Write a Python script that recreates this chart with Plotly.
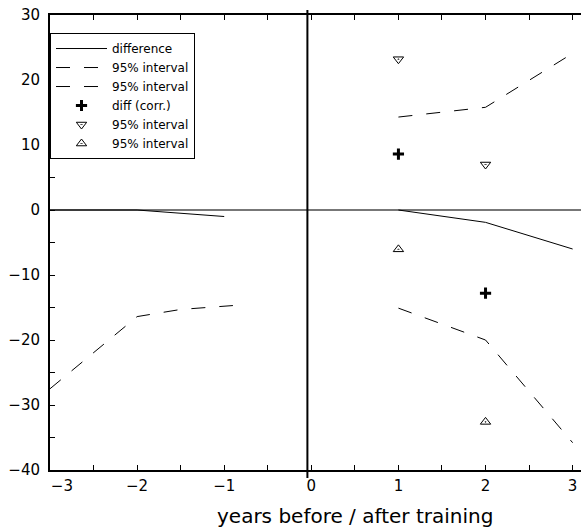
import plotly.graph_objects as go

# ---- data ----
diff_x = [-3, -2, -1, None, 1, 2, 3]
diff_y = [0, 0, -1.0, None, 0, -1.9, -6.0]

upper_x = [1, 2, 3]
upper_y = [14.3, 15.8, 24.1]

lower_x = [-3, -2, -1.5, -0.9, None, 1, 2, 3]
lower_y = [-27.5, -16.4, -15.3, -14.7, None, -15.1, -20.0, -35.8]

corr_x = [1, 2]
corr_y = [8.6, -12.8]

corr_hi_x = [1, 2]
corr_hi_y = [23.2, 7.0]

corr_lo_x = [1, 2]
corr_lo_y = [-6.05, -32.6]

x_tick_vals = [-3, -2, -1, 0, 1, 2, 3]
x_tick_text = ["\u00a0\u00a0\u00a0\u00a0\u00a0\u22123", "\u22122", "\u22121", "0", "1", "2", "3"]

x_range = [-3, 3.096]
y_range = [-40, 30]
vline_x = -0.045

FONT = "DejaVu Sans"

fig = go.Figure()
fig.add_trace(go.Scatter(x=diff_x, y=diff_y, mode="lines", name="difference",
                         line=dict(color="black", width=1), connectgaps=False))
fig.add_trace(go.Scatter(x=upper_x, y=upper_y, mode="lines", name="95% interval",
                         line=dict(color="black", width=1, dash="14px,14px")))
fig.add_trace(go.Scatter(x=lower_x, y=lower_y, mode="lines", name="95% interval",
                         line=dict(color="black", width=1, dash="14px,14px"), connectgaps=False))
fig.add_trace(go.Scatter(x=corr_x, y=corr_y, mode="markers", name="diff (corr.)",
                         marker=dict(symbol="cross-thin", size=8, color="black",
                                     line=dict(color="black", width=3))))
fig.add_trace(go.Scatter(x=corr_hi_x, y=corr_hi_y, mode="markers", name="95% interval",
                         marker=dict(symbol="triangle-down-open-dot", size=9, color="black",
                                     line=dict(color="black", width=1))))
fig.add_trace(go.Scatter(x=corr_lo_x, y=corr_lo_y, mode="markers", name="95% interval",
                         marker=dict(symbol="triangle-up-open-dot", size=9, color="black",
                                     line=dict(color="black", width=1))))

fig.add_shape(type="line", xref="x", yref="paper", x0=vline_x, x1=vline_x,
              y0=-0.0176, y1=1.011, line=dict(color="black", width=2))

fig.add_annotation(text="years before / after training", xref="paper", yref="paper",
                   x=0.5744, y=-0.101, xanchor="center", yanchor="middle",
                   showarrow=False, font=dict(family=FONT, size=20, color="black"))

fig.update_xaxes(range=x_range, tickmode="array", tickvals=x_tick_vals, ticktext=x_tick_text,
                 ticks="inside", ticklen=5, tickwidth=1,
                 tickcolor="black", showline=True, linecolor="black", linewidth=2,
                 mirror="ticks", showgrid=False, zeroline=False,
                 ticklabelstandoff=1, ticklabeloverflow="allow",
                 minor=dict(dtick=0.5, tick0=0, ticks="inside", ticklen=5, tickwidth=1,
                            tickcolor="black", showgrid=False),
                 tickfont=dict(family=FONT, size=15, color="black"))
fig.update_yaxes(range=y_range, dtick=10, tick0=0, ticks="inside", ticklen=5, tickwidth=1,
                 tickcolor="black", showline=True, linecolor="black", linewidth=2,
                 mirror=False, showgrid=False, zeroline=True, zerolinecolor="#777777",
                 zerolinewidth=1.5, ticklabelstandoff=5, ticklabeloverflow="allow",
                 minor=dict(dtick=5, tick0=0, ticks="inside", ticklen=5, tickwidth=1,
                            tickcolor="black", showgrid=False),
                 tickfont=dict(family=FONT, size=15, color="black"))

fig.update_layout(
    width=581, height=530,
    margin=dict(l=50, r=0, t=15, b=60),
    plot_bgcolor="white", paper_bgcolor="white",
    font=dict(family=FONT, color="black"),
    legend=dict(x=0, y=0.9604, xanchor="left", yanchor="top",
                bgcolor="white", bordercolor="black", borderwidth=1,
                font=dict(family=FONT, size=12, color="black"),
                itemwidth=51, tracegroupgap=0),
    showlegend=True,
)

# remove the default page margin so the 581x530 figure fills the window exactly
fig.write_html("out.html",
               config={"displayModeBar": False},
               post_script="document.body.style.margin='0';document.body.style.overflow='hidden';")
